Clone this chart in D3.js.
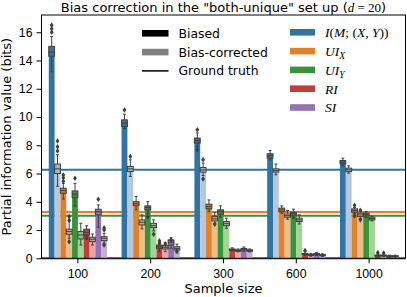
<!DOCTYPE html>
<html>
<head>
<meta charset="utf-8">
<script src="https://cdn.jsdelivr.net/npm/d3@7"></script>
<style>
  body { margin: 0; background: #fff; }
  svg { display: block; font-family: "DejaVu Sans", sans-serif; }
  .axis text { font-size: 12.3px; fill: #000; }
  .axis path, .axis line { stroke: #000; }
</style>
</head>
<body>
<div id="chart"></div>
<script>
// Sample sizes on the x axis and the five PID measures
var sampleSizes = ["100", "200", "300", "600", "1000"]
var measures = ["I", "UIX", "UIY", "RI", "SI"]
var yTicks = [0, 2, 4, 6, 8, 10, 12, 14, 16]

// colours: biased (dark) and bias-corrected (light) per measure
var colorsBiased = ["#3274a1", "#e1812c", "#3a923a", "#c03d3e", "#9372b2"]
var colorsCorrected = ["#b4c8e1", "#eebb89", "#9ed692", "#f1a4a3", "#c5afd5"]

// ground truth per measure
var groundTruth = [6.27, 3.27, 3.02, 0, 0]

// bar heights (mean) per sample size; order: I, I corr, UIX, UIX corr, UIY, UIY corr, RI, RI corr, SI, SI corr
var means100 = [14.9, 6.4, 4.8, 1.9, 4.55, 1.6, 1.9, 1.35, 3.35, 1.4]
var means200 = [9.7, 6.3, 3.9, 2.55, 3.55, 2.3, 0.8, 0.75, 1.1, 0.7]
var means300 = [8.4, 6.25, 3.65, 2.8, 3.3, 2.45, 0.62, 0.55, 0.65, 0.55]
var means600 = [7.3, 6.2, 3.45, 3.0, 3.1, 2.7, 0.3, 0.25, 0.3, 0.22]
var means1000 = [6.9, 6.25, 3.4, 3.05, 3.1, 2.8, 0.2, 0.2, 0.15, 0.15]

// box stats [whisker low, q1, median, q3, whisker high]
var boxes100 = [[13.2, 14.3, 14.6, 15.0, 15.7], [5.1, 6.0, 6.33, 6.67, 7.33], [4.2, 4.6, 4.8, 4.96, 5.3], [1.42, 1.7, 1.89, 2.06, 2.6], [3.7, 4.3, 4.54, 4.77, 5.3],
  [0.94, 1.37, 1.65, 1.89, 2.48], [1.37, 1.65, 1.84, 2.06, 2.3], [0.94, 1.18, 1.35, 1.49, 1.72], [2.2, 3.07, 3.3, 3.47, 3.78], [1.06, 1.25, 1.42, 1.53, 1.77]]
var boxes200 = [[9.17, 9.33, 9.57, 9.8, 10.2], [5.79, 6.14, 6.33, 6.5, 6.97], [3.43, 3.73, 3.87, 4.01, 4.37], [2.08, 2.36, 2.55, 2.72, 3.07], [3.19, 3.43, 3.59, 3.71, 4.01],
  [1.94, 2.17, 2.31, 2.48, 2.72], [0.47, 0.71, 0.82, 0.94, 1.1], [0.47, 0.66, 0.78, 0.9, 1.13], [0.71, 0.94, 1.13, 1.3, 1.46], [0.38, 0.59, 0.7, 0.82, 1.0]]
var boxes300 = [[7.9, 8.16, 8.34, 8.51, 8.87], [5.86, 6.1, 6.26, 6.43, 6.74], [3.3, 3.5, 3.66, 3.83, 4.13], [2.48, 2.65, 2.79, 2.95, 3.26], [2.91, 3.12, 3.3, 3.43, 3.71],
  [2.13, 2.31, 2.45, 2.6, 2.84], [0.52, 0.57, 0.62, 0.66, 0.74], [0.45, 0.5, 0.55, 0.6, 0.66], [0.5, 0.59, 0.65, 0.7, 0.8], [0.45, 0.5, 0.55, 0.6, 0.66]]
var boxes600 = [[6.97, 7.09, 7.26, 7.4, 7.63], [5.91, 6.1, 6.21, 6.33, 6.67], [3.19, 3.3, 3.43, 3.55, 3.71], [2.77, 2.91, 3.02, 3.14, 3.38], [2.84, 3.0, 3.14, 3.26, 3.48],
  [2.43, 2.6, 2.72, 2.84, 3.07], [0.2, 0.27, 0.31, 0.35, 0.5], [0.15, 0.2, 0.24, 0.28, 0.35], [0.2, 0.26, 0.3, 0.34, 0.42], [0.14, 0.18, 0.22, 0.26, 0.32]]
var boxes1000 = [[6.55, 6.69, 6.8, 6.92, 7.09], [6.03, 6.14, 6.26, 6.38, 6.55], [3.15, 3.26, 3.38, 3.5, 3.6], [2.82, 2.95, 3.07, 3.19, 3.3], [2.9, 3.0, 3.1, 3.2, 3.3],
  [2.65, 2.72, 2.82, 2.91, 2.98], [0.12, 0.17, 0.2, 0.23, 0.3], [0.12, 0.17, 0.2, 0.23, 0.3], [0.08, 0.12, 0.15, 0.18, 0.22], [0.08, 0.12, 0.15, 0.18, 0.22]]

// outliers
var fliers100 = [[16.0, 16.25, 16.5], [7.6, 7.9, 8.3], [5.45, 5.7, 5.9], [2.7, 2.95, 1.18], [5.67], [], [1.45], [], [4.18], [2.0, 2.15, 0.94]]
var fliers200 = [[10.5], [7.2], [], [], [2.95], [1.7], [1.23, 1.05], [1.0], [1.3], [0.5]]
var fliers300 = [[9.1, 7.68], [6.97, 5.62], [], [2.41], [], [], [], [], [], []]
var fliers600 = [[], [], [], [], [], [], [0.55], [], [], []]
var fliers1000 = [[], [], [3.75, 3.0], [3.4, 2.72], [], [], [0.4], [0.38], [], []]

var allMeans = [means100, means200, means300, means600, means1000]
var allBoxes = [boxes100, boxes200, boxes300, boxes600, boxes1000]
var allFliers = [fliers100, fliers200, fliers300, fliers600, fliers1000]

// Setup: dimensions
var W = 407, H = 297
var margin = {top: 15, right: 1.5, bottom: 38.7, left: 41.5}
var width = W - margin.left - margin.right
var height = H - margin.top - margin.bottom

var svg = d3.select("#chart").append("svg")
  .attr("width", W)
  .attr("height", H)

var g = svg.append("g")
  .attr("transform", "translate(" + margin.left + "," + margin.top + ")")

var x = d3.scaleBand().domain(sampleSizes).range([0, width])
var inner = d3.scaleBand().domain(d3.range(10))
  .range([x.bandwidth() * 0.1, x.bandwidth() * 0.9])
var y = d3.scaleLinear().domain([0, 17.22]).range([height, 0])

var colorOf = function(i) {
  return (i % 2 == 0) ? colorsBiased[i >> 1] : colorsCorrected[i >> 1]
}

// flatten into rows
var rows = []
sampleSizes.forEach(function(s, k) {
  d3.range(10).forEach(function(i) {
    rows.push({size: s, i: i, mean: allMeans[k][i], box: allBoxes[k][i], fliers: allFliers[k][i]})
  })
})

// ground truth lines (behind the bars)
g.selectAll(".truth")
  .data(groundTruth)
  .enter().append("line")
    .attr("class", "truth")
    .attr("x1", 0)
    .attr("x2", width)
    .attr("y1", function(d) { return y(d) })
    .attr("y2", function(d) { return y(d) })
    .style("stroke", function(d, i) { return colorsBiased[i] })
    .style("stroke-width", 2)

// bars
g.selectAll(".bar")
  .data(rows)
  .enter().append("rect")
    .attr("class", "bar")
    .attr("x", function(d) { return x(d.size) + inner(d.i) })
    .attr("width", inner.bandwidth())
    .attr("y", function(d) { return y(d.mean) })
    .attr("height", function(d) { return height - y(d.mean) })
    .style("fill", function(d) { return colorOf(d.i) })

// boxplots
var bw = inner.bandwidth()
var boxG = g.selectAll(".box")
  .data(rows)
  .enter().append("g")
    .attr("class", "box")
    .attr("transform", function(d) { return "translate(" + (x(d.size) + inner(d.i) + bw / 2) + ",0)" })

var boxStroke = "#3f3f3f"

boxG.append("line")
  .attr("y1", function(d) { return y(d.box[0]) })
  .attr("y2", function(d) { return y(d.box[4]) })
  .style("stroke", boxStroke)
  .style("stroke-width", 1)

boxG.selectAll(".cap")
  .data(function(d) { return [d.box[0], d.box[4]] })
  .enter().append("line")
    .attr("x1", -bw / 4)
    .attr("x2", bw / 4)
    .attr("y1", function(v) { return y(v) })
    .attr("y2", function(v) { return y(v) })
    .style("stroke", boxStroke)
    .style("stroke-width", 1)

boxG.append("rect")
  .attr("x", -bw / 2)
  .attr("width", bw)
  .attr("y", function(d) { return y(d.box[3]) })
  .attr("height", function(d) { return Math.max(1, y(d.box[1]) - y(d.box[3])) })
  .style("fill", function(d) { return d3.interpolateRgb(colorOf(d.i), "#666")(0.2) })
  .style("stroke", boxStroke)
  .style("stroke-width", 1)

boxG.append("line")
  .attr("x1", -bw / 2)
  .attr("x2", bw / 2)
  .attr("y1", function(d) { return y(d.box[2]) })
  .attr("y2", function(d) { return y(d.box[2]) })
  .style("stroke", boxStroke)
  .style("stroke-width", 1)

boxG.selectAll(".flier")
  .data(function(d) { return d.fliers })
  .enter().append("path")
    .attr("class", "flier")
    .attr("d", function(v) { var c = y(v); return "M0," + (c - 2.8) + "L1.9," + c + "L0," + (c + 2.8) + "L-1.9," + c + "Z" })
    .style("fill", boxStroke)

// axes
g.append("g")
  .attr("class", "axis axis--y")
  .call(d3.axisLeft(y).tickValues(yTicks).tickSize(5).tickPadding(4))

g.append("g")
  .attr("class", "axis axis--x")
  .attr("transform", "translate(0," + height + ")")
  .call(d3.axisBottom(x).tickSize(5).tickPadding(5.5))

g.selectAll(".axis .domain").remove()
g.append("rect")
  .attr("width", width)
  .attr("height", height)
  .style("fill", "none")
  .style("stroke", "#000")
  .style("stroke-width", 1)

// labels
svg.append("text")
  .attr("transform", "translate(11," + (margin.top + height / 2) + ") rotate(-90)")
  .style("text-anchor", "middle")
  .style("font-size", "13px")
  .text("Partial information value (bits)")

svg.append("text")
  .attr("x", margin.left + width / 2)
  .attr("y", 293)
  .style("text-anchor", "middle")
  .style("font-size", "13px")
  .text("Sample size")

var title = svg.append("text")
  .attr("x", margin.left + width / 2)
  .attr("y", 11.5)
  .style("text-anchor", "middle")
  .style("font-size", "13px")
title.append("tspan").text("Bias correction in the \"both-unique\" set up (")
title.append("tspan").style("font-family", "'Liberation Serif', serif").style("font-style", "italic").text("d")
title.append("tspan").style("font-family", "'Liberation Serif', serif").text(" = 20")
title.append("tspan").text(")")

// legend: biased / corrected / ground truth
var legend1 = svg.append("g").attr("transform", "translate(142,33.3)")
var leg1Items = ["Biased", "Bias-corrected", "Ground truth"]
leg1Items.forEach(function(t, i) {
  var row = legend1.append("g").attr("transform", "translate(0," + (i * 18.8) + ")")
  if (i < 2) {
    row.append("rect").attr("x", 0).attr("y", -3.3).attr("width", 26.5).attr("height", 6.6)
      .style("fill", i == 0 ? "#000" : "#808080")
  } else {
    row.append("line").attr("x1", 0).attr("x2", 26.5).style("stroke", "#000").style("stroke-width", 1.5)
  }
  row.append("text").attr("x", 36.5).attr("dy", "0.36em").style("font-size", "12.4px").text(t)
})

// legend: measures
var legend2 = svg.append("g").attr("transform", "translate(290,32.3)")
var mathFont = "'Liberation Serif', serif"
measures.forEach(function(m, i) {
  var row = legend2.append("g").attr("transform", "translate(0," + (i * 18.8) + ")")
  row.append("rect").attr("x", 0).attr("y", -3.3).attr("width", 25).attr("height", 6.6)
    .style("fill", colorsBiased[i])
  var t = row.append("text").attr("x", 35).attr("dy", "0.36em")
    .style("font-size", "13.5px").style("font-family", mathFont)
  var it = function(s) { t.append("tspan").style("font-style", "italic").text(s) }
  var up = function(s) { t.append("tspan").text(s) }
  var sub = function(s) { t.append("tspan").style("font-style", "italic").style("font-size", "9.5px").attr("dy", "3").text(s) }
  if (m == "I") { it("I"); up("("); it("M"); up("; ("); it("X"); up(", "); it("Y"); up("))") }
  else if (m == "UIX") { it("UI"); sub("X") }
  else if (m == "UIY") { it("UI"); sub("Y") }
  else it(m)
})
</script>
</body>
</html>
